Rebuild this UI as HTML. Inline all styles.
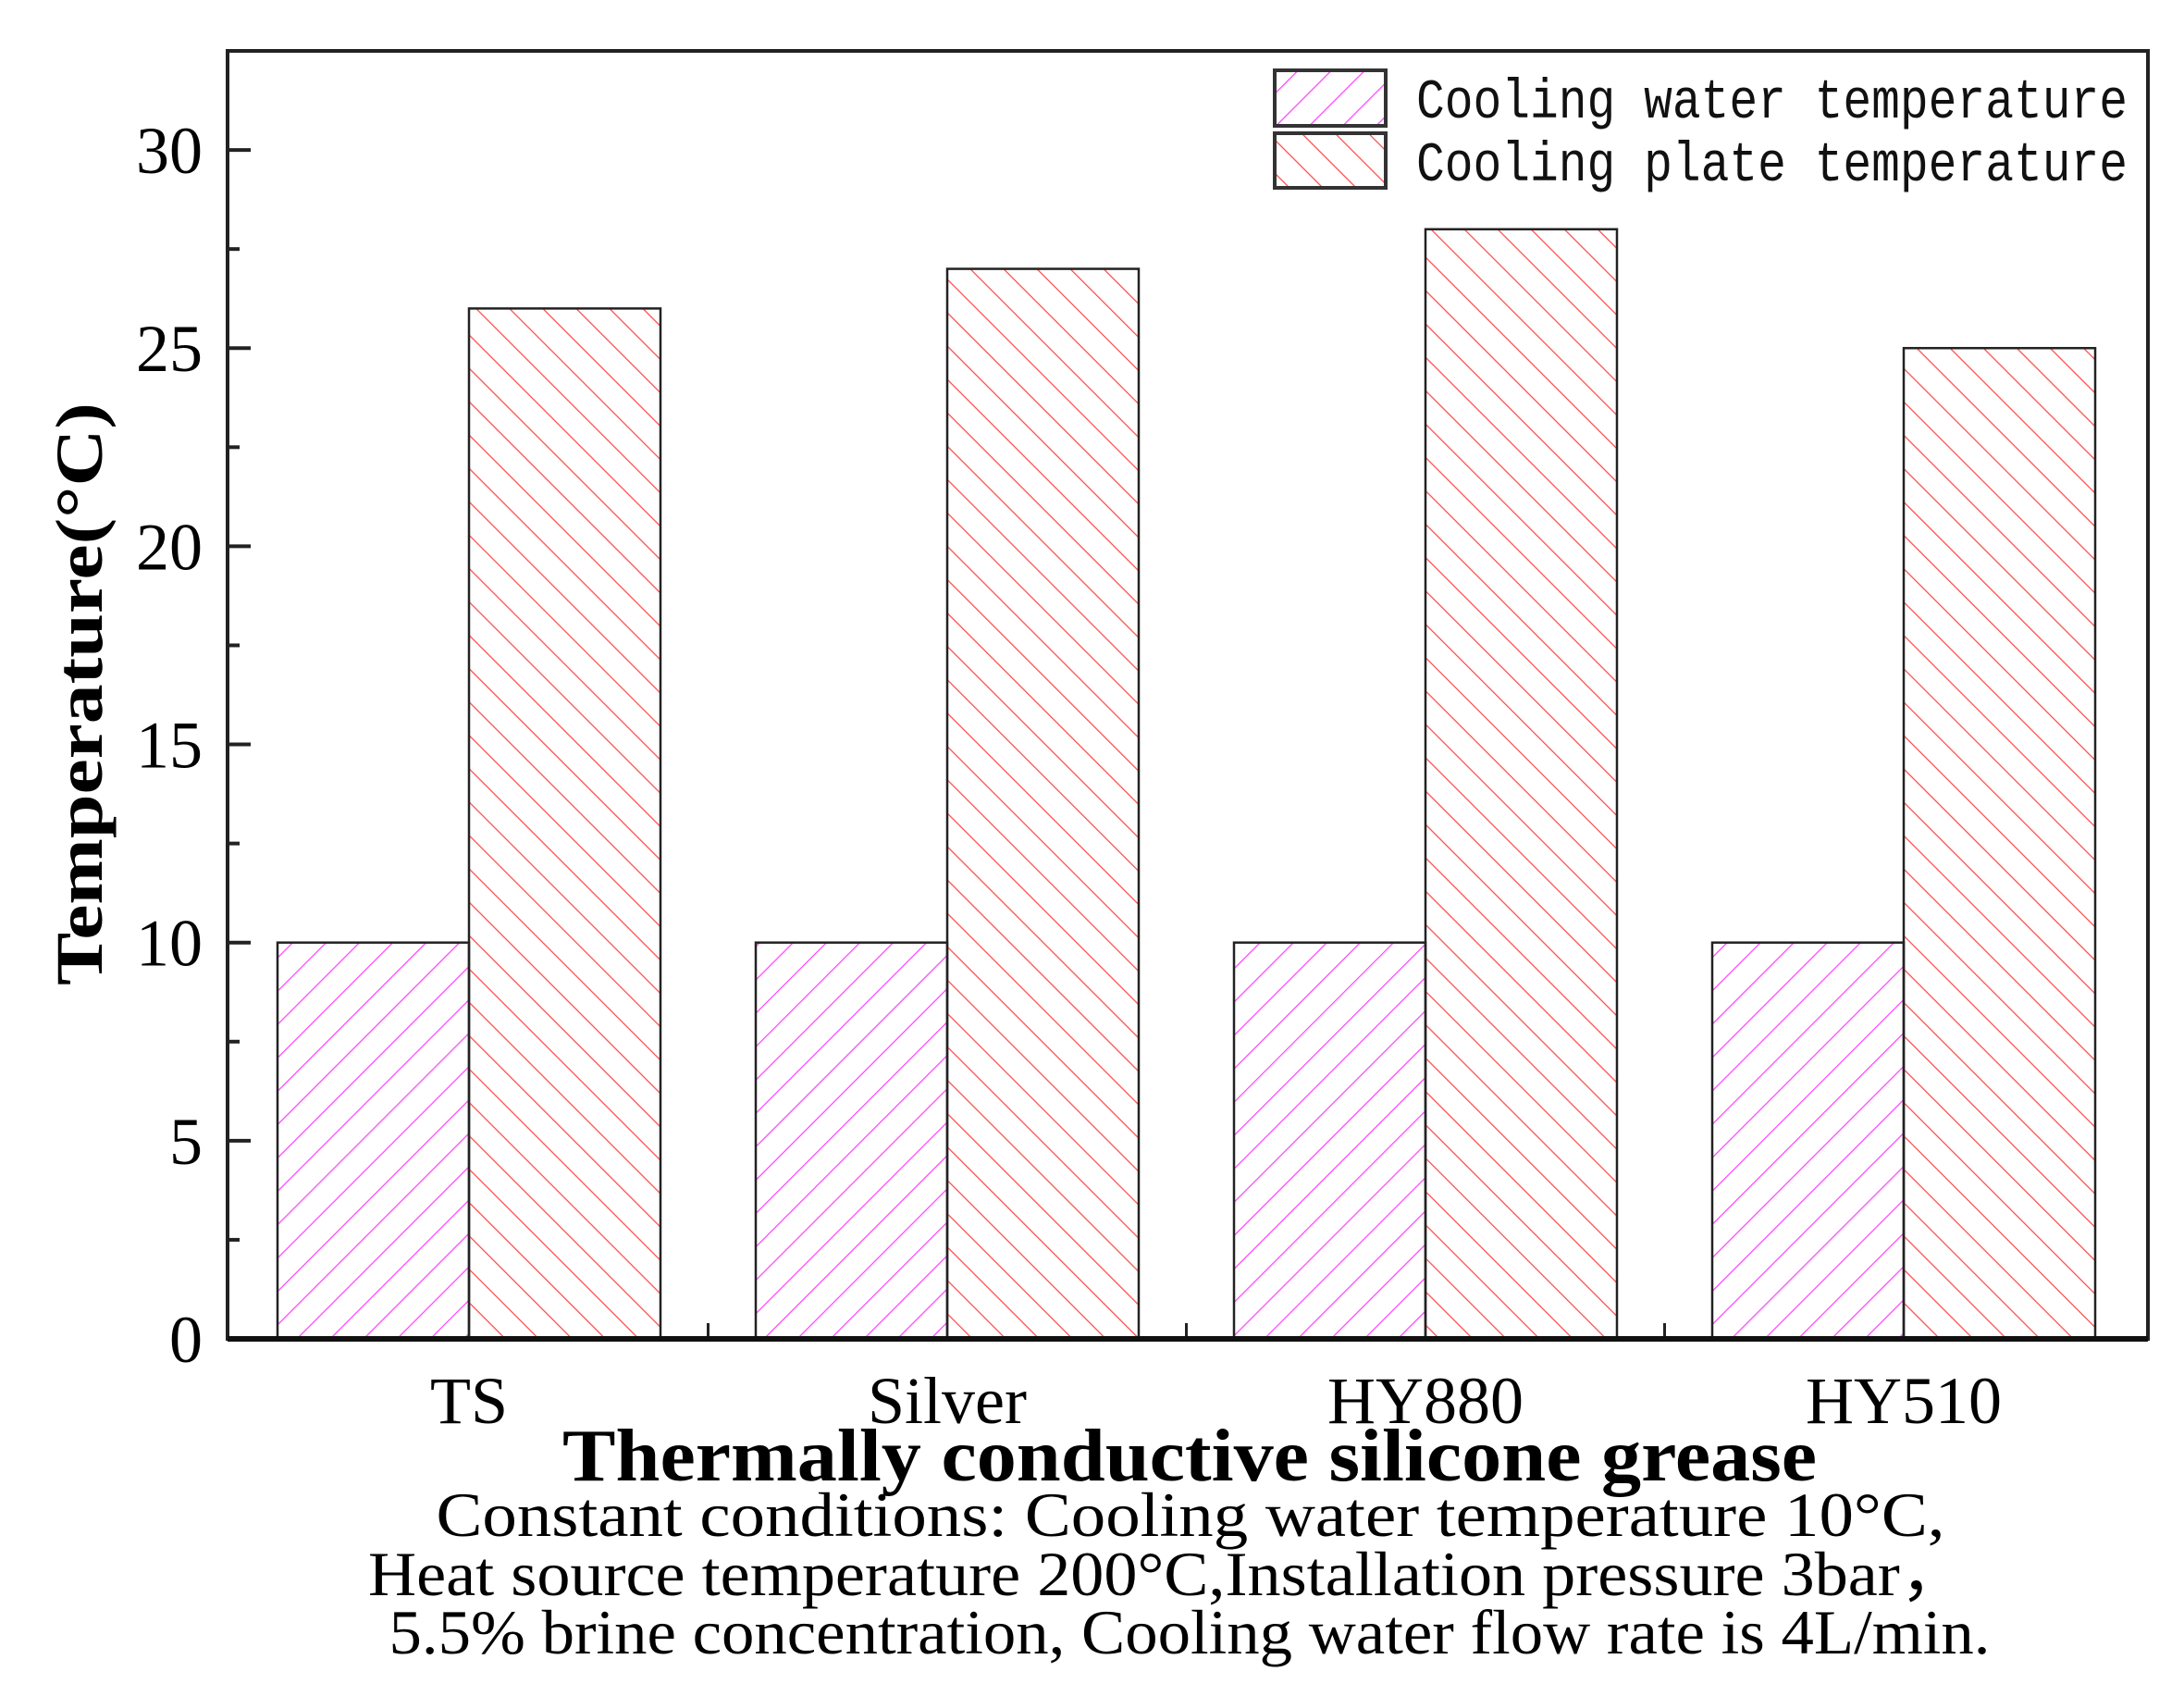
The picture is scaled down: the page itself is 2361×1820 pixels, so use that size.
<!DOCTYPE html>
<html><head><meta charset="utf-8"><style>
html,body{margin:0;padding:0;background:#fff;}
svg{display:block;}
</style></head><body>
<svg id="chart" width="2361" height="1820" viewBox="0 0 2361 1820" xmlns="http://www.w3.org/2000/svg">
<defs>
<pattern id="hatchWater" patternUnits="userSpaceOnUse" width="25.5" height="25.5" patternTransform="rotate(45)">
<line x1="0" y1="0" x2="0" y2="25.5" stroke="#ff44ff" stroke-width="2.5"/>
</pattern>
<pattern id="hatchPlate" patternUnits="userSpaceOnUse" width="25.5" height="25.5" patternTransform="rotate(-45)">
<line x1="0" y1="0" x2="0" y2="25.5" stroke="#ff4a4a" stroke-width="2.5"/>
</pattern>
</defs>
<g id="plot"></g>
<g id="legend">
<rect x="1378" y="76" width="120" height="60" fill="url(#hatchWater)" stroke="#333" stroke-width="4"/>
<text x="1531" y="127" font-family="Liberation Mono, monospace" font-size="60" textLength="769" lengthAdjust="spacingAndGlyphs" fill="#111">Cooling water temperature</text>
<rect x="1378" y="144" width="120" height="59" fill="url(#hatchPlate)" stroke="#333" stroke-width="4"/>
<text x="1531" y="195" font-family="Liberation Mono, monospace" font-size="60" textLength="769" lengthAdjust="spacingAndGlyphs" fill="#111">Cooling plate temperature</text>
</g>
<text transform="translate(110,750) rotate(-90)" text-anchor="middle" font-family="Liberation Serif, serif" font-weight="bold" font-size="72" textLength="630" lengthAdjust="spacingAndGlyphs">Temperature(°C)</text>
<text x="1286" y="1600" text-anchor="middle" font-family="Liberation Serif, serif" font-weight="bold" font-size="80" textLength="1356" lengthAdjust="spacingAndGlyphs">Thermally conductive silicone grease</text>
<g font-family="Liberation Serif, serif" font-size="68" text-anchor="middle">
<text x="1287" y="1660" textLength="1631" lengthAdjust="spacingAndGlyphs">Constant conditions: Cooling water temperature 10°C,</text>
<text x="1262" y="1724" textLength="1728" lengthAdjust="spacingAndGlyphs">Heat source temperature 200°C,Installation pressure 3bar，</text>
<text x="1286" y="1787" textLength="1731" lengthAdjust="spacingAndGlyphs">5.5% brine concentration, Cooling water flow rate is 4L/min.</text>
</g>
</svg>
<script>
const categories = ["TS", "Silver", "HY880", "HY510"];
const waterTemps = [10, 10, 10, 10];
const plateTemps = [26, 27, 28, 25];
const yTicks = [0, 5, 10, 15, 20, 25, 30];
const yMinorTicks = [2.5, 7.5, 12.5, 17.5, 22.5, 27.5];

const NS = "http://www.w3.org/2000/svg";
const L = 246, R = 2322, T = 55, B = 1447;
const yMax = 32.5;
function yScale(v){ return B - (v / yMax) * (B - T); }
const band = 517;
function xCenter(i){ return 507 + band * i; }
const barW = 207;
const g = document.getElementById('plot');
function mk(tag, attrs){ const e = document.createElementNS(NS, tag); for (const k in attrs) e.setAttribute(k, attrs[k]); g.appendChild(e); return e; }

categories.forEach((c, i) => {
  const cx = xCenter(i);
  const w = mk('rect', {x: cx - barW, y: yScale(waterTemps[i]), width: barW, height: B - yScale(waterTemps[i]), fill: 'url(#hatchWater)', stroke: '#222', 'stroke-width': 2.5});
  
  
  const p = mk('rect', {x: cx, y: yScale(plateTemps[i]), width: barW, height: B - yScale(plateTemps[i]), fill: 'url(#hatchPlate)', stroke: '#222', 'stroke-width': 2.5});
  
  
  const t = mk('text', {x: cx, y: 1538, 'text-anchor': 'middle', 'font-family': 'Liberation Serif, serif', 'font-size': 72});
  t.textContent = c;
  
  
  if (i > 0) {
    const bx = cx - band / 2;
    const tk = mk('line', {x1: bx, x2: bx, y1: B, y2: B - 17, stroke: '#222', 'stroke-width': 3});
    
    
  }
});

yTicks.forEach(v => {
  const y = yScale(v);
  const tk = mk('line', {x1: L, x2: L + 25, y1: y, y2: y, stroke: '#222', 'stroke-width': 4});
  
  
  const t = mk('text', {x: 219, y: y + 25, 'text-anchor': 'end', 'font-family': 'Liberation Serif, serif', 'font-size': 72});
  t.textContent = v;
  
  
});
yMinorTicks.forEach(v => {
  const y = yScale(v);
  const tk = mk('line', {x1: L, x2: L + 13, y1: y, y2: y, stroke: '#222', 'stroke-width': 4});
  
  
});

const frame = mk('rect', {x: L, y: T, width: R - L, height: B - T, fill: 'none', stroke: '#222', 'stroke-width': 4});


const base = mk('line', {x1: L, x2: R, y1: B, y2: B, stroke: '#111', 'stroke-width': 6});


</script>
</body></html>
